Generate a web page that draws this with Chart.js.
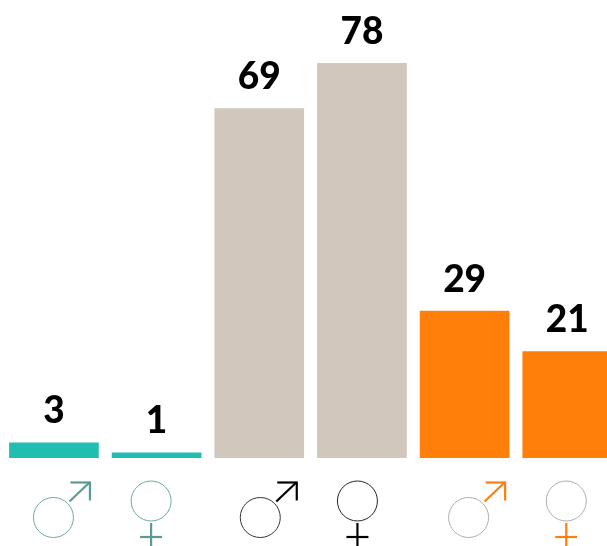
<!DOCTYPE html>
<html>
<head>
<meta charset="utf-8">
<style>
  html, body { margin: 0; padding: 0; background: #fff; overflow: hidden; }
  canvas { display: block; }
</style>
<script src="https://cdn.jsdelivr.net/npm/chart.js@4"></script>
</head>
<body>
<canvas id="canvasBar" width="620" height="546"></canvas>
<script>
// data
const categories = ['♂', '♀', '♂', '♀', '♂', '♀'];
const values = [3, 1, 69, 78, 29, 21];

// colours per bar
const barColors = ['#20bdb0', '#20bdb0', '#d1c7bd', '#d1c7bd', '#ff7f0a', '#ff7f0a'];
const ringColors = ['#6fa8a6', '#6fa8a6', '#333333', '#222222', '#b3adaa', '#b3adaa'];
const signColors = ['#5b9a98', '#5b9a98', '#000000', '#000000', '#ff7f0a', '#ff7f0a'];
// how far each symbol sits from its bar centre
const iconShift = [-0.5, -5.5, 1, -4.5, 4, -1];

function line(ctx, x1, y1, x2, y2) {
  ctx.beginPath();
  ctx.moveTo(x1, y1);
  ctx.lineTo(x2, y2);
  ctx.stroke();
}

function drawMale(ctx, x, y, ring, sign) {
  ctx.strokeStyle = ring;
  ctx.lineWidth = 1;
  ctx.beginPath();
  ctx.arc(x, y, 20, 0, Math.PI * 2);
  ctx.stroke();
  ctx.strokeStyle = sign;
  ctx.lineWidth = 2.2;
  line(ctx, x + 16, y - 16, x + 36, y - 35);
  line(ctx, x + 17, y - 35, x + 36.5, y - 35);
  line(ctx, x + 36.5, y - 36, x + 36.5, y - 17);
}

function drawFemale(ctx, x, y, ring, sign) {
  ctx.strokeStyle = ring;
  ctx.lineWidth = 1;
  ctx.beginPath();
  ctx.arc(x, y, 20, 0, Math.PI * 2);
  ctx.stroke();
  ctx.strokeStyle = sign;
  ctx.lineWidth = 2.2;
  line(ctx, x, y + 22, x, y + 46);
  line(ctx, x - 11, y + 36, x + 11, y + 36);
}

// value labels above the bars, gender symbols below
const barExtras = {
  id: 'barExtras',
  afterDatasetsDraw(chart) {
    const ctx = chart.ctx;
    const bars = chart.getDatasetMeta(0).data;
    const bottom = chart.chartArea.bottom;
    ctx.save();
    ctx.fillStyle = '#000';
    ctx.font = '900 37px Lato';
    ctx.textAlign = 'center';
    ctx.textBaseline = 'alphabetic';
    bars.forEach((bar, i) => {
      ctx.fillText(String(values[i]), bar.x, bar.y - 19.5);
      const x = bar.x + iconShift[i];
      if (categories[i] === '♂') {
        drawMale(ctx, x, bottom + 59.5, ringColors[i], signColors[i]);
      } else {
        drawFemale(ctx, x, bottom + 43, ringColors[i], signColors[i]);
      }
    });
    ctx.restore();
  }
};

const ctx = document.getElementById('canvasBar').getContext('2d');
new Chart(ctx, {
  type: 'bar',
  data: {
    labels: categories,
    datasets: [{
      data: values,
      backgroundColor: barColors,
      borderWidth: 0,
      barThickness: 89
    }]
  },
  options: {
    responsive: false,
    animation: false,
    layout: { padding: { left: 2.6, right: 1.4, top: 63, bottom: 88 } },
    plugins: {
      legend: { display: false },
      tooltip: { enabled: false }
    },
    scales: {
      x: { display: false },
      y: { display: false, min: 0, max: 78 }
    }
  },
  plugins: [barExtras]
});
</script>
</body>
</html>
